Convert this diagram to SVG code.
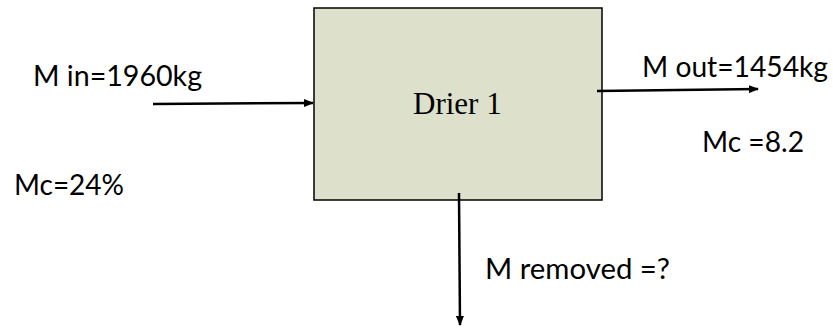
<svg xmlns="http://www.w3.org/2000/svg" width="833" height="334" viewBox="0 0 833 334">
  <defs>
    <marker id="arrow" viewBox="0 0 10 8" refX="9" refY="4" markerWidth="10" markerHeight="8" markerUnits="userSpaceOnUse" orient="auto">
      <path d="M0,0 L10,4 L0,8 Z" fill="#000"/>
    </marker>
    <style>
      .label { font-family: Lato, "Open Sans", "Liberation Sans", sans-serif; font-size: 29px; fill: #000; }
      .title { font-family: "Liberation Serif", "Times New Roman", serif; font-size: 31px; fill: #000; }
      .flow { stroke: #000; stroke-width: 2.5; fill: none; marker-end: url(#arrow); }
    </style>
  </defs>
  <rect width="833" height="334" fill="#fff"/>

  <g id="drier">
    <rect x="314" y="8" width="288" height="192" fill="#dde0cb" stroke="#000" stroke-width="1.5"/>
    <text class="title" x="413" y="114">Drier 1</text>
  </g>

  <g id="connectors">
    <line class="flow" x1="153" y1="104" x2="313" y2="103"/>
    <line class="flow" x1="597" y1="91" x2="758" y2="89"/>
    <line class="flow" x1="459" y1="193" x2="460" y2="325"/>
  </g>

  <g id="labels">
    <text class="label" x="33" y="86" textLength="169" lengthAdjust="spacingAndGlyphs">M in=1960kg</text>
    <text class="label" x="14" y="195" textLength="110" lengthAdjust="spacingAndGlyphs">Mc=24%</text>
    <text class="label" x="642" y="77" textLength="186" lengthAdjust="spacingAndGlyphs">M out=1454kg</text>
    <text class="label" x="702" y="152" textLength="102" lengthAdjust="spacingAndGlyphs">Mc =8.2</text>
    <text class="label" x="485" y="279" textLength="185" lengthAdjust="spacingAndGlyphs">M removed =?</text>
  </g>
</svg>
